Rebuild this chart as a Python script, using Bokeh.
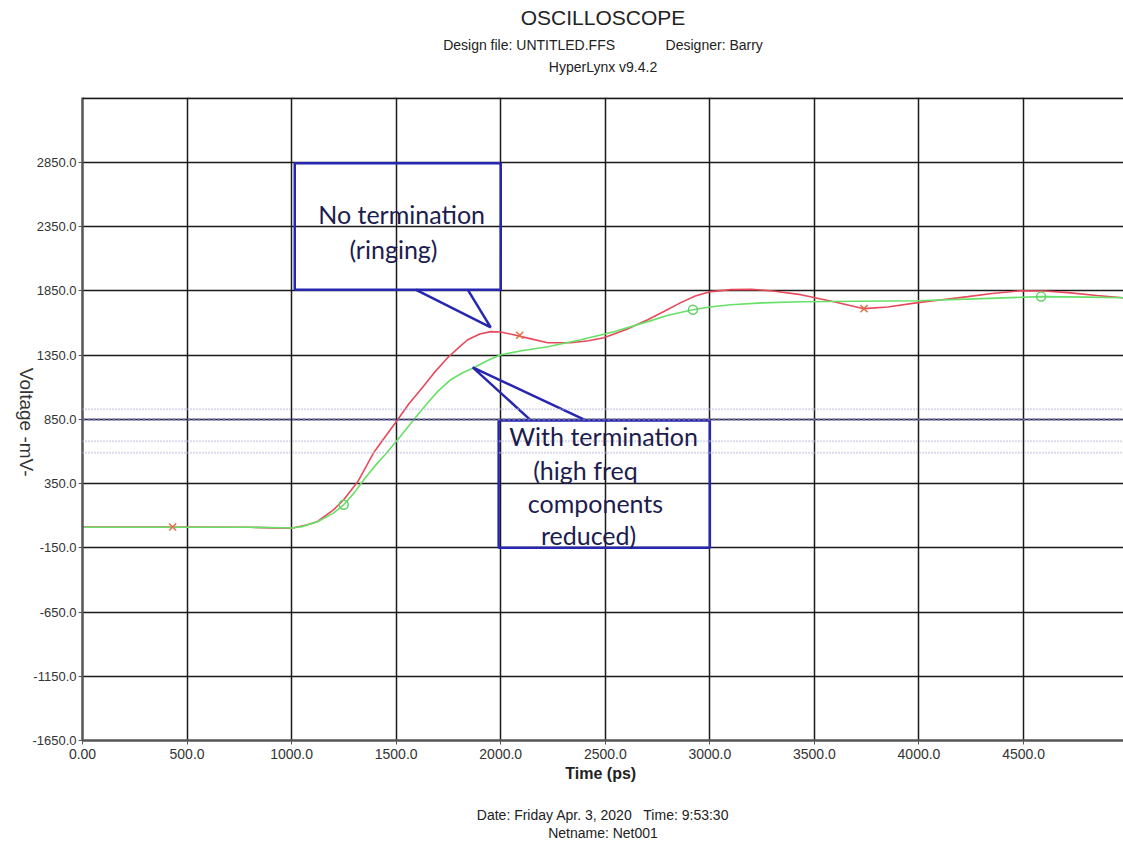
import math
from bokeh.plotting import figure
from bokeh.models import Range1d, FixedTicker, PrintfTickFormatter, Span, Label, Title
from bokeh.embed import file_html
from bokeh.resources import INLINE

# ---------------- data ----------------
t_no_term = [0, 400, 800, 900, 1000, 1076, 1124, 1200, 1249, 1316, 1392, 1450, 1507,
             1560, 1617, 1680, 1746, 1800, 1842, 1900, 1952, 2000, 2062, 2150, 2225,
             2335, 2420, 2493, 2600, 2703, 2780, 2861, 2930, 3005, 3100, 3200, 3300,
             3435, 3593, 3737, 3850, 3995, 4100, 4234, 4350, 4488, 4600, 4713, 4850, 4978]
v_no_term = [12, 12, 10, 5, 2, 29, 55, 146, 224, 364, 590, 720, 847,
             970, 1081, 1210, 1330, 1410, 1470, 1515, 1533, 1530, 1509, 1475, 1447,
             1447, 1462, 1486, 1550, 1626, 1690, 1759, 1810, 1845, 1860, 1862, 1850,
             1821, 1766, 1712, 1725, 1759, 1780, 1806, 1830, 1852, 1850, 1837, 1815, 1797]

t_term = [0, 400, 800, 900, 1000, 1050, 1124, 1200, 1249, 1300, 1345, 1400, 1450, 1507,
          1580, 1651, 1700, 1761, 1820, 1871, 1940, 2000, 2100, 2225, 2383, 2541, 2703,
          2800, 2919, 3000, 3100, 3250, 3435, 3700, 3995, 4300, 4584, 4800, 4978]
v_term = [10, 10, 10, 8, 4, 15, 53, 120, 185, 280, 380, 490, 580, 691,
          840, 980, 1070, 1159, 1215, 1252, 1310, 1353, 1385, 1416, 1470, 1533, 1611,
          1660, 1704, 1725, 1743, 1757, 1766, 1770, 1774, 1790, 1806, 1802, 1797]

red_marker_t = [431, 2091, 3737]
red_marker_v = [12, 1505, 1712]
green_marker_t = [1249, 2919, 4584]
green_marker_v = [185, 1704, 1806]

x_ticks = [0, 500, 1000, 1500, 2000, 2500, 3000, 3500, 4000, 4500]
y_ticks = [-1650, -1150, -650, -150, 350, 850, 1350, 1850, 2350, 2850]
threshold_main = [850]
threshold_light = [928, 680, 590]

# annotation geometry (data units)
box1 = dict(left=1015, right=2000, bottom=1860, top=2845)
box2 = dict(left=1990, right=3000, bottom=-150, top=842)
callout1_x = [1593, 1952, 1842]
callout1_y = [1860, 1567, 1860]
callout2_x = [2144, 1866, 2407]
callout2_y = [842, 1255, 842]

# ---------------- figure ----------------
p = figure(width=1123, height=846,
           x_range=Range1d(0, 4978), y_range=Range1d(-1650, 3356),
           output_backend="svg", toolbar_location=None,
           min_border_left=82, min_border_right=0,
           min_border_top=97, min_border_bottom=106)
p.outline_line_color = None
p.background_fill_color = "white"
p.border_fill_color = "white"

for ax, ticks, fs in ((p.xaxis[0], x_ticks, "14px"), (p.yaxis[0], y_ticks, "13px")):
    ax.ticker = FixedTicker(ticks=ticks)
    ax.formatter = PrintfTickFormatter(format="%.1f")
    ax.axis_line_color = "#555555"
    ax.axis_line_width = 2.5
    ax.major_tick_line_color = "#555555"
    ax.major_tick_out = 4
    ax.major_tick_in = 0
    ax.minor_tick_line_color = None
    ax.major_label_text_font = "Liberation Sans"
    ax.major_label_text_font_size = fs
    ax.major_label_text_color = "#333333"

p.xaxis.major_label_overrides = {0: "0.00"}
p.xaxis.major_label_standoff = 4
p.yaxis.major_label_standoff = 2
p.xaxis.axis_label = "Time  (ps)"
p.xaxis.axis_label_text_font = "Liberation Sans"
p.xaxis.axis_label_text_font_style = "bold"
p.xaxis.axis_label_text_font_size = "16px"
p.xaxis.axis_label_text_color = "#222222"
p.xaxis.axis_label_standoff = 3

# y-axis label reads top-to-bottom; it is end-anchored, so pad it and anchor at the axis start
p.yaxis.axis_label = "Voltage  -mV-" + "\u00a0" * 49
p.yaxis.axis_label_text_font = "Liberation Sans"
p.yaxis.axis_label_text_font_style = "normal"
p.yaxis.axis_label_text_font_size = "19px"
p.yaxis.axis_label_text_color = "#333333"
p.yaxis.axis_label_standoff = 3
try:
    p.yaxis[0].axis_label_orientation = -math.pi / 2
    p.yaxis[0].axis_label_align = "start"
except Exception:
    pass

p.grid.grid_line_color = "#1a1a1a"
p.grid.grid_line_width = 1.5
p.grid.grid_line_alpha = 1.0
p.xgrid.ticker = FixedTicker(ticks=x_ticks)
p.ygrid.ticker = FixedTicker(ticks=y_ticks)

# top frame line
p.add_layout(Span(location=3350, dimension="width", line_color="#1a1a1a", line_width=2))

# thresholds
for th in threshold_light:
    p.add_layout(Span(location=th, dimension="width", line_color="#b8b8e0",
                      line_width=2, line_dash="1 2"))
for th in threshold_main:
    p.add_layout(Span(location=th, dimension="width", line_color="#6868b0",
                      line_width=2, line_dash="3 2"))

# curves
p.line(t_no_term, v_no_term, line_color="#e8485a", line_width=1.6)
p.line(t_term, v_term, line_color="#66e066", line_width=1.6)
p.scatter(red_marker_t, red_marker_v, marker="x", size=10, line_color="#e0704a", line_width=1.5)
p.scatter(green_marker_t, green_marker_v, marker="circle", size=9, fill_color=None,
          line_color="#66d066", line_width=1.5)

# callout boxes
box_col = "#2626b0"
for b in (box1, box2):
    p.quad(left=b["left"], right=b["right"], bottom=b["bottom"], top=b["top"],
           fill_alpha=0, line_color=box_col, line_width=2.5)
p.line(callout1_x, callout1_y, line_color=box_col, line_width=2.5)
p.line(callout2_x, callout2_y, line_color=box_col, line_width=2.5)

txt_col = "#1c1c4e"
callout_texts = [
    ("No termination", 1526, 2447),
    ("(ringing)", 1487, 2180),
    ("With termination", 2492, 718),
    ("(high freq", 2405, 455),
    ("components", 2453, 200),
    ("reduced)", 2420, -52),
]
for s, x, y in callout_texts:
    p.add_layout(Label(x=x, y=y, text=s, text_font="Lato", text_font_size="25px",
                       text_color=txt_col, text_align="center", text_baseline="middle"))

# header (closest to frame first) and footer
def styled_title(t, text, size, offset, standoff):
    t.text = text
    t.align = "center"
    t.offset = offset
    t.standoff = standoff
    t.text_font = "Liberation Sans"
    t.text_font_size = size
    t.text_font_style = "normal"
    t.text_color = "#222222"
    return t

styled_title(p.title, "OSCILLOSCOPE", "21px", 27, 7)
nb = "\u00a0" * 13
p.add_layout(styled_title(Title(), "\u00a0", "1px", 0, 18), "above")          # spacer
p.add_layout(styled_title(Title(), "HyperLynx v9.4.2", "14px", 38, 4), "above")
p.add_layout(styled_title(Title(), "Design file: UNTITLED.FFS" + nb + "Designer: Barry", "14px", 20, 4), "above")

p.add_layout(styled_title(Title(), "\u00a0", "1px", 0, 17), "below")          # spacer
p.add_layout(styled_title(Title(), "Date: Friday Apr. 3, 2020\u00a0\u00a0\u00a0Time: 9:53:30", "14px", 33, 0), "below")
p.add_layout(styled_title(Title(), "Netname: Net001", "14px", 29, 0), "below")

open("out.html", "w").write(file_html(p, INLINE))
